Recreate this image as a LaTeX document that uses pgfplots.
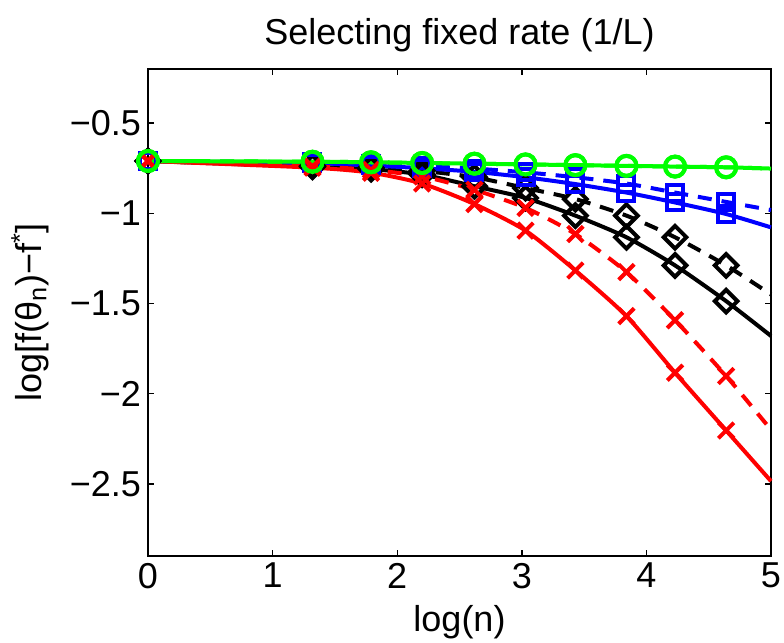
\documentclass[border=0pt]{standalone}
\usepackage{fontspec}
\setmainfont{Liberation Sans}
\usepackage{pgfplots}
\pgfplotsset{compat=1.18}
\usetikzlibrary{calc}

% curves: x = log(n), marks at the first ten points, last point only ends the line
\pgfplotstableread{
x     rs      rd      ks      kd      bs      bd      gs
0     -0.710  -0.710  -0.710  -0.710  -0.710  -0.710  -0.710
1.32  -0.747  -0.740  -0.742  -0.738  -0.722  -0.718  -0.714
1.79  -0.775  -0.760  -0.755  -0.748  -0.735  -0.728  -0.717
2.20  -0.835  -0.795  -0.785  -0.765  -0.750  -0.738  -0.721
2.62  -0.949  -0.870  -0.850  -0.800  -0.770  -0.752  -0.725
3.03  -1.096  -0.970  -0.915  -0.860  -0.800  -0.773  -0.729
3.43  -1.317  -1.115  -1.013  -0.921  -0.838  -0.800  -0.733
3.84  -1.570  -1.326  -1.133  -1.013  -0.885  -0.835  -0.737
4.23  -1.884  -1.593  -1.289  -1.133  -0.940  -0.885  -0.741
4.64  -2.204  -1.902  -1.487  -1.289  -1.004  -0.937  -0.745
5.00  -2.485  -2.200  -1.680  -1.450  -1.078  -0.982  -0.752
}\curves

\begin{document}
\begin{tikzpicture}[font=\fontsize{18}{21}\selectfont]
\begin{axis}[
  width=311.5pt, height=243.5pt, scale only axis,
  xmin=0, xmax=5, ymin=-2.9, ymax=-0.2,
  xtick={0,1,2,3,4,5}, xticklabels={0,1,2,3,4,5},
  ytick={-2.5,-2,-1.5,-1,-0.5},
  yticklabels={−2.5,−2,−1.5,−1,−0.5},
  tick align=inside, major tick length=3pt,
  axis line style={line width=0.9pt},
  tick style={line width=0.7pt, black},
  ticklabel style={font=\fontsize{18}{21}\selectfont},
  title={Selecting fixed rate (1/L)},
  title style={at={(axis description cs:0.5,1)}, anchor=center, yshift=11pt},
  xlabel={log(n)},
  xlabel style={at={(axis description cs:0.5,0)}, anchor=center, yshift=-33pt},
  ylabel={log[f(θ\textsubscript{n})−f\textsuperscript{*}]},
  ylabel style={at={(axis description cs:0,0.5)}, anchor=center, yshift=59pt},
  clip=false,
  every axis plot/.append style={line width=2pt, smooth, tension=0.4,
    mark indices={1,2,3,4,5,6,7,8,9,10}, mark options={solid}},
]
\addplot[black, mark=square, mark size=4pt, mark options={rotate=45, solid}] table[y=ks] {\curves};
\addplot[black, dash pattern=on 7pt off 5pt, mark=square, mark size=4pt, mark options={rotate=45, solid}] table[y=kd] {\curves};
\addplot[blue, mark=square, mark size=4pt] table[y=bs] {\curves};
\addplot[blue, dash pattern=on 7pt off 5pt, mark=square, mark size=4pt] table[y=bd] {\curves};
\addplot[red, mark=x, mark size=5.5pt] table[y=rs] {\curves};
\addplot[red, dash pattern=on 7pt off 5pt, mark=x, mark size=5.5pt] table[y=rd] {\curves};
\addplot[green, dash pattern=on 7pt off 5pt, mark=o, mark size=5pt] table[y=gs] {\curves};
\addplot[green, mark=o, mark size=5pt] table[y=gs] {\curves};
\coordinate (bl) at (rel axis cs:0,0);
\coordinate (tr) at (rel axis cs:1,1);
\end{axis}
\pgfresetboundingbox
\path[use as bounding box] ($(bl)+(-74pt,-43pt)$) rectangle ($(tr)+(6.5pt,34.5pt)$);
\end{tikzpicture}
\end{document}
